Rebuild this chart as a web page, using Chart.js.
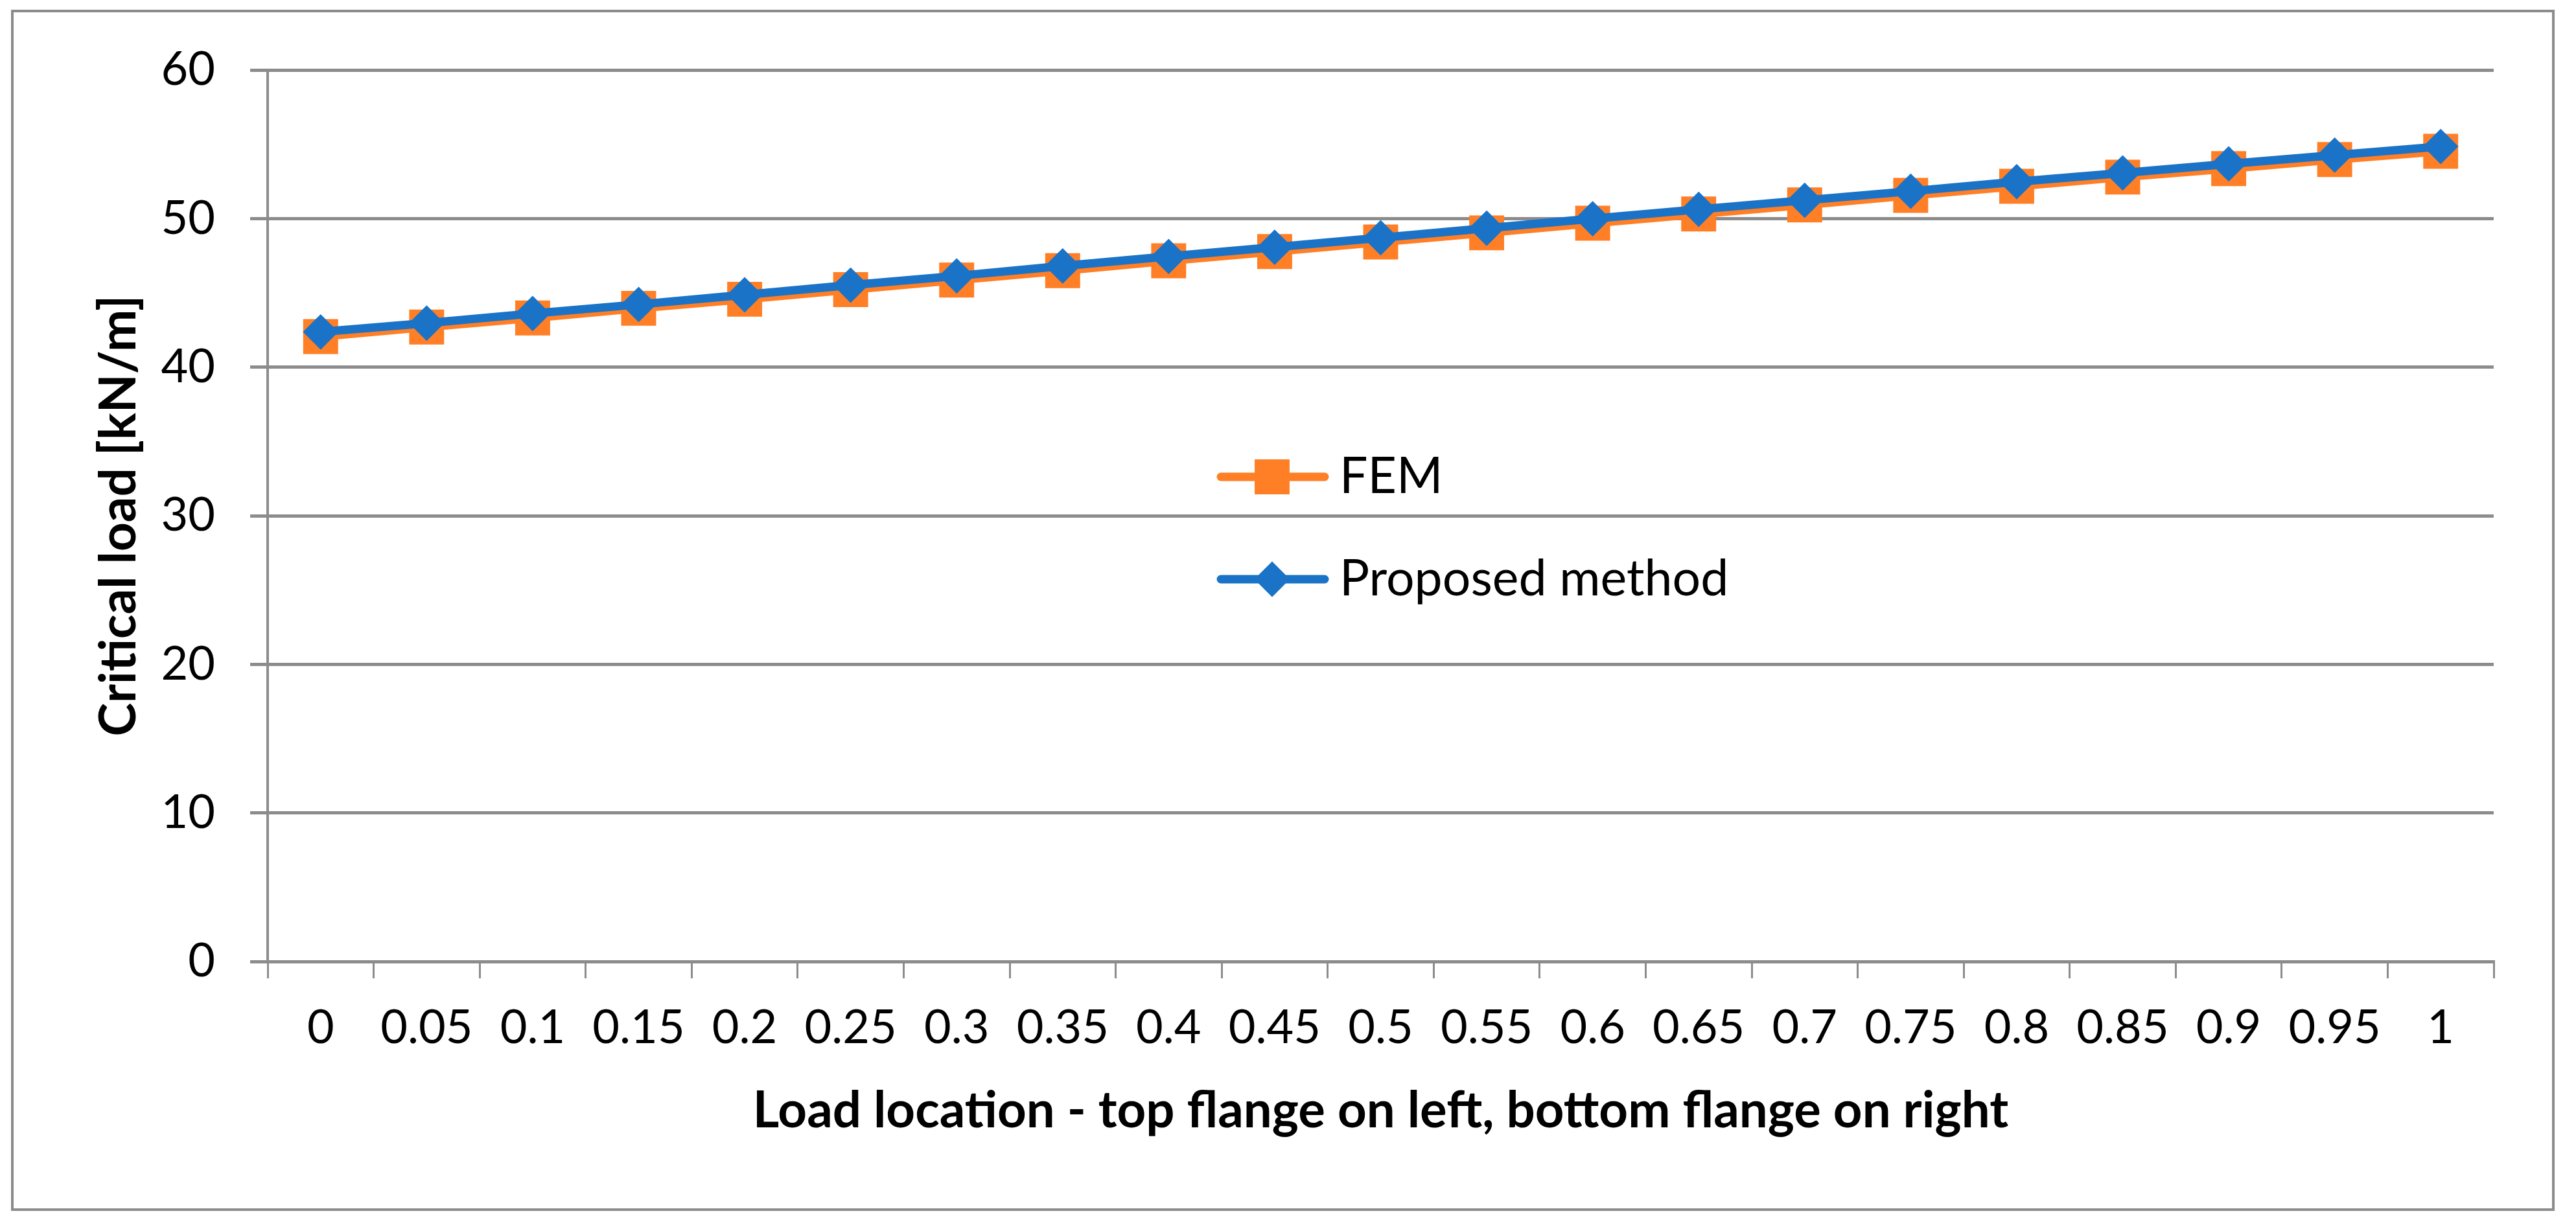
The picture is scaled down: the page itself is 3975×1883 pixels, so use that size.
<!DOCTYPE html>
<html>
<head>
<meta charset="utf-8">
<title>Critical load vs load location</title>
<script src="https://cdn.jsdelivr.net/npm/chart.js@4.4.1/dist/chart.umd.min.js"></script>
<style>
  html, body { margin: 0; padding: 0; background: #fff; }
  #grafico { display: block; }
</style>
</head>
<body>
<canvas id="grafico" width="3975" height="1883"></canvas>
<script>
  // valores
  const posicoes = ["0", "0.05", "0.1", "0.15", "0.2", "0.25", "0.3", "0.35", "0.4", "0.45", "0.5",
    "0.55", "0.6", "0.65", "0.7", "0.75", "0.8", "0.85", "0.9", "0.95", "1"];
  const cargaFem = [42.06, 42.70, 43.31, 43.96, 44.57, 45.22, 45.86, 46.49, 47.16, 47.78, 48.42,
    49.04, 49.69, 50.31, 50.92, 51.56, 52.17, 52.79, 53.36, 53.97, 54.53];
  const cargaProposta = [42.37, 42.96, 43.61, 44.22, 44.87, 45.52, 46.14, 46.81, 47.45, 48.07, 48.71,
    49.35, 49.99, 50.62, 51.23, 51.84, 52.48, 53.07, 53.68, 54.27, 54.85];
  const yMin = 0;
  const yMax = 60;
  const yPasso = 10;

(function () {
  "use strict";

  const CINZA = "#8c8c8c";
  const LARANJA = "#ff7f27";
  const AZUL = "#1a73c6";
  const FONTE = "Lato, 'Open Sans', sans-serif";
  const TAM = 72;
  const TAM_LEGENDA = 77;
  const TAM_TITULO = 78;

  // moldura externa do gráfico
  const moldura = {
    id: "moldura",
    beforeDraw(chart) {
      const ctx = chart.ctx;
      ctx.save();
      ctx.fillStyle = "#fff";
      ctx.fillRect(0, 0, chart.width, chart.height);
      ctx.strokeStyle = CINZA;
      ctx.lineWidth = 4;
      ctx.strokeRect(19, 17, 3921, 1850);
      ctx.restore();
    },
  };

  // legenda dentro da área do gráfico
  const legenda = {
    id: "legendaInterna",
    afterDraw(chart) {
      const ctx = chart.ctx;
      const linhas = [
        { ds: chart.data.datasets[0], y: 736 },
        { ds: chart.data.datasets[1], y: 894 },
      ];
      ctx.save();
      linhas.forEach(({ ds, y }) => {
        ctx.strokeStyle = ds.borderColor;
        ctx.lineWidth = ds.borderWidth;
        ctx.lineCap = "round";
        ctx.beginPath();
        ctx.moveTo(1884, y);
        ctx.lineTo(2044, y);
        ctx.stroke();
        const estilo = {
          pointStyle: ds.pointStyle,
          radius: ds.pointRadius,
          borderWidth: ds.pointBorderWidth,
          rotation: 0,
        };
        ctx.fillStyle = ds.pointBackgroundColor;
        ctx.strokeStyle = ds.pointBorderColor;
        ctx.lineWidth = ds.pointBorderWidth;
        Chart.helpers.drawPoint(ctx, estilo, 1963, y);
        ctx.fillStyle = "#000";
        ctx.font = `${TAM_LEGENDA}px ${FONTE}`;
        ctx.textBaseline = "middle";
        ctx.textAlign = "left";
        ctx.fillText(ds.label, 2067, y);
      });
      ctx.restore();
    },
  };

  function init() {
    const canvas = document.getElementById("grafico");
    new Chart(canvas.getContext("2d"), {
      type: "line",
      data: {
        labels: posicoes,
        datasets: [
          {
            label: "FEM",
            data: cargaFem,
            order: 2,
            borderColor: LARANJA,
            backgroundColor: LARANJA,
            borderWidth: 13,
            borderJoinStyle: "round",
            pointStyle: "rect",
            pointRadius: 36,
            pointBorderWidth: 3,
            pointBackgroundColor: LARANJA,
            pointBorderColor: LARANJA,
            tension: 0,
          },
          {
            label: "Proposed method",
            data: cargaProposta,
            order: 1,
            borderColor: AZUL,
            backgroundColor: AZUL,
            borderWidth: 13,
            borderJoinStyle: "round",
            pointStyle: "rectRot",
            pointRadius: 26,
            pointBorderWidth: 2,
            pointBackgroundColor: AZUL,
            pointBorderColor: AZUL,
            tension: 0,
          },
        ],
      },
      options: {
        responsive: false,
        devicePixelRatio: 1,
        animation: false,
        events: [],
        layout: { padding: { top: 108, right: 127, bottom: 0, left: 0 } },
        plugins: {
          legend: { display: false },
          tooltip: { enabled: false },
        },
        scales: {
          x: {
            type: "category",
            offset: true,
            afterFit(scale) {
              scale.height = 399;
            },
            grid: {
              offset: true,
              drawOnChartArea: false,
              drawTicks: true,
              tickLength: 26,
              color: CINZA,
              lineWidth: 3,
            },
            border: { color: CINZA, width: 5 },
            ticks: {
              color: "#000",
              font: { family: FONTE, size: TAM },
              padding: 34,
              maxRotation: 0,
              autoSkip: false,
            },
            title: {
              display: true,
              text: "Load location - top flange on left, bottom flange on right",
              color: "#000",
              font: { family: FONTE, size: TAM_TITULO, weight: "bold", lineHeight: 1.2 },
              padding: { top: 0, bottom: 168 - TAM_TITULO * 0.6 },
            },
          },
          y: {
            min: yMin,
            max: yMax,
            afterFit(scale) {
              scale.width = 413;
            },
            ticks: {
              stepSize: yPasso,
              color: "#000",
              font: { family: FONTE, size: TAM },
              padding: 54,
            },
            grid: {
              color: CINZA,
              lineWidth: 5,
              tickLength: 27,
            },
            border: { color: CINZA, width: 4 },
            title: {
              display: true,
              text: "Critical load [kN/m]",
              color: "#000",
              font: { family: FONTE, size: TAM_TITULO, weight: "bold", lineHeight: 1.2 },
              padding: { top: 184 - TAM_TITULO * 0.6, bottom: 0 },
            },
          },
        },
      },
      plugins: [moldura, legenda],
    });
  }

  if (document.readyState === "loading") {
    document.addEventListener("DOMContentLoaded", init);
  } else {
    init();
  }
})();
</script>
</body>
</html>
